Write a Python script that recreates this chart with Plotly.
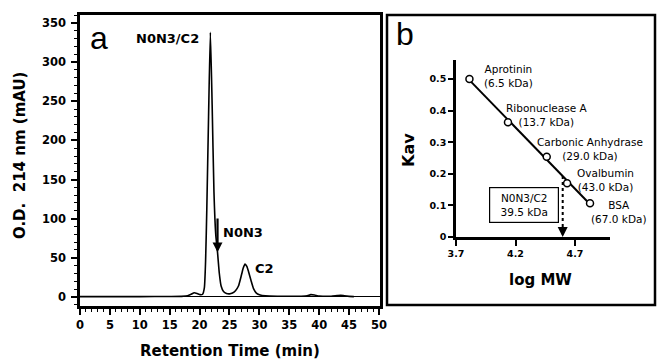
import numpy as np
import plotly.graph_objects as go

# ---------------- data ----------------
# Panel a: chromatogram
time_min = [0, 5, 10, 15, 17, 18, 18.6, 19.1, 19.6, 20.1, 20.5, 20.8, 21.0, 21.2, 21.5, 21.8,
            22.1, 22.4, 22.7, 23.0, 23.3, 23.6, 24.0, 24.5, 25.0, 25.5, 26.0, 26.5, 27.0, 27.3,
            27.6, 27.9, 28.2, 28.6, 29.0, 29.5, 30, 31, 33, 35, 37, 38, 38.6, 39.2, 40, 41, 42,
            43, 43.6, 44.2, 45, 45.8]
absorbance = [0.5, 0.5, 0.5, 0.6, 0.8, 1.5, 3.5, 5.5, 4.5, 3.0, 3.5, 12, 45, 110, 230, 338,
              245, 135, 80, 57, 30, 14, 7, 4.5, 4, 5, 8, 14, 28, 37,
              42, 39, 32, 21, 11, 5, 3, 1.5, 1, 1, 1, 1.5, 3, 2.5, 1.2, 1, 1,
              1.8, 2.2, 1.5, 0.8, 0.5]
x_ticks_a = list(range(0, 51, 5))
y_ticks_a = list(range(0, 351, 50))

# Panel b: calibration
standards = ["Aprotinin", "Ribonuclease A", "Carbonic Anhydrase", "Ovalbumin", "BSA"]
mw_kda = [6.5, 13.7, 29.0, 43.0, 67.0]
kav = [0.50, 0.363, 0.254, 0.17, 0.107]
sample_label = "N0N3/C2"
sample_mw_kda = 39.5
x_ticks_b = [3.7, 4.2, 4.7]
y_ticks_b = [0, 0.1, 0.2, 0.3, 0.4, 0.5]
y_ticktext_b = ["0", "0.1", "0.2", "0.3", "0.4", "0.5"]

# ---------------- derived ----------------
log_mw = np.log10(np.array(mw_kda) * 1000)
slope, intercept = np.polyfit(log_mw, kav, 1)
fit_x = np.array([log_mw.min(), log_mw.max()])
fit_y = slope * fit_x + intercept
sample_x = np.log10(sample_mw_kda * 1000)
sample_y = slope * sample_x + intercept

W, H = 657, 360
def px(x):
    return x / W
def py(y):
    return (H - y) / H

FONT = "DejaVu Sans"
fig = go.Figure()

# chromatogram
fig.add_trace(go.Scatter(x=time_min, y=absorbance, mode="lines",
                         line=dict(color="black", width=1.6, shape="spline", smoothing=0.5),
                         xaxis="x", yaxis="y", showlegend=False, hoverinfo="skip"))

# calibration line
fig.add_trace(go.Scatter(x=fit_x, y=fit_y, mode="lines", line=dict(color="black", width=2),
                         xaxis="x2", yaxis="y2", showlegend=False))
fig.add_trace(go.Scatter(x=log_mw, y=kav, mode="markers",
                         marker=dict(symbol="circle", size=7, color="white",
                                     line=dict(color="black", width=1.5)),
                         xaxis="x2", yaxis="y2", showlegend=False))
# dotted drop line for the sample
fig.add_trace(go.Scatter(x=[sample_x, sample_x], y=[sample_y, 0.03], mode="lines",
                         line=dict(color="black", width=2, dash="dot"),
                         xaxis="x2", yaxis="y2", showlegend=False))

ann = []
# arrow head of sample line
ann.append(dict(x=sample_x, y=0.0, ax=sample_x, ay=0.035, xref="x2", yref="y2",
                axref="x2", ayref="y2", showarrow=True, arrowhead=2, arrowsize=1,
                arrowwidth=2, arrowcolor="black", text=""))

C = dict(xanchor="center", yanchor="middle", showarrow=False)

# panel a annotations
ann.append(dict(x=14.7, y=330, xref="x", yref="y", text="N0N3/C2", **C,
                font=dict(family=FONT, size=13, color="black", weight="bold")))
ann.append(dict(x=23.0, y=57, ax=23.0, ay=102, xref="x", yref="y", axref="x", ayref="y",
                showarrow=True, arrowhead=2, arrowsize=0.9, arrowwidth=2.2,
                arrowcolor="black", text=""))
ann.append(dict(x=23.6, y=82, xref="x", yref="y", text="N0N3", showarrow=False,
                xanchor="left", yanchor="middle",
                font=dict(family=FONT, size=13, color="black", weight="bold")))
ann.append(dict(x=28.9, y=37, xref="x", yref="y", text="C2", showarrow=False,
                xanchor="left", yanchor="middle",
                font=dict(family=FONT, size=13, color="black", weight="bold")))

# panel b point labels
offsets = [(39, 3), (39, 7.5), (43, 8), (38, 3.5), (29, -9)]
for name, m, lx, k, (dx, dy) in zip(standards, mw_kda, log_mw, kav, offsets):
    ann.append(dict(x=lx, y=k, xref="x2", yref="y2", xshift=dx, yshift=dy,
                    text=f"{name}<br>({m:.1f} kDa)", align="center", **C,
                    font=dict(family=FONT, size=10.5, color="black")))

# sample box
ann.append(dict(x=4.271, y=0.101, xref="x2", yref="y2",
                text=f"{sample_label}<br>{sample_mw_kda} kDa", **C,
                bordercolor="black", borderwidth=1.2, borderpad=1, width=66, height=32,
                bgcolor="white", font=dict(family=FONT, size=10.5, color="black")))

# panel letters
ann.append(dict(x=px(88), y=py(38), xref="paper", yref="paper", text="a", showarrow=False,
                xanchor="left", yanchor="middle",
                font=dict(family="Liberation Sans", size=32, color="black")))
ann.append(dict(x=px(394), y=py(34), xref="paper", yref="paper", text="b", showarrow=False,
                xanchor="left", yanchor="middle",
                font=dict(family="Liberation Sans", size=32, color="black")))

# axis titles
ann.append(dict(x=px(230), y=py(351), xref="paper", yref="paper", text="Retention Time (min)",
                **C, font=dict(family=FONT, size=15, color="black", weight="bold")))
ann.append(dict(x=px(20), y=py(156), xref="paper", yref="paper", text="O.D.  214 nm (mAU)",
                textangle=-90, **C,
                font=dict(family=FONT, size=15, color="black", weight="bold")))
ann.append(dict(x=px(540), y=py(280), xref="paper", yref="paper", text="log MW",
                **C, font=dict(family=FONT, size=15, color="black", weight="bold")))
ann.append(dict(x=px(408), y=py(150), xref="paper", yref="paper", text="Kav", textangle=-90,
                **C, font=dict(family=FONT, size=16, color="black", weight="bold")))

shapes = [dict(type="rect", xref="paper", yref="paper", x0=px(387), x1=px(655),
               y0=py(305), y1=py(15), line=dict(color="black", width=2.5))]

tick_font_a = dict(family=FONT, size=11.5, color="black", weight="bold")
tick_font_b = dict(family=FONT, size=9.5, color="black", weight="bold")

fig.update_layout(
    width=W, height=H, margin=dict(l=0, r=0, t=0, b=0, pad=0, autoexpand=False),
    paper_bgcolor="white", plot_bgcolor="white",
    annotations=ann, shapes=shapes,
    xaxis=dict(domain=[px(80), px(380)], range=[0, 50.17], tickvals=x_ticks_a,
               ticks="outside", ticklen=6, tickwidth=1.5, tickcolor="black",
               minor=dict(dtick=1, ticks="outside", ticklen=3, tickwidth=1, tickcolor="black"),
               showline=True, linewidth=2.5, linecolor="black", mirror=True,
               showgrid=False, zeroline=False, tickfont=tick_font_a, anchor="y",
               automargin=False),
    yaxis=dict(domain=[py(306), py(15)], range=[-11.5, 360], tickvals=y_ticks_a,
               ticks="outside", ticklen=6, tickwidth=1.5, tickcolor="black",
               minor=dict(dtick=10, ticks="outside", ticklen=3, tickwidth=1, tickcolor="black"),
               showline=True, linewidth=2.5, linecolor="black", mirror=True,
               showgrid=False, zeroline=True, zerolinecolor="black", zerolinewidth=1,
               tickfont=tick_font_a, anchor="x", ticklabelstandoff=3, automargin=False),
    xaxis2=dict(domain=[px(456), px(610)], range=[3.7, 4.994], tickvals=x_ticks_b,
                ticktext=[str(v) for v in x_ticks_b],
                ticks="outside", ticklen=6, tickwidth=2, tickcolor="black",
                showline=True, linewidth=2.5, linecolor="black",
                showgrid=False, zeroline=False, tickfont=tick_font_b, anchor="y2",
                automargin=False),
    yaxis2=dict(domain=[py(237), py(60)], range=[0, 0.56], tickvals=y_ticks_b,
                ticktext=y_ticktext_b,
                ticks="outside", ticklen=5, tickwidth=2, tickcolor="black",
                showline=True, linewidth=2.5, linecolor="black",
                showgrid=False, zeroline=False, tickfont=tick_font_b, anchor="x2",
                automargin=False),
)

fig.write_html("out.html", config={"displayModeBar": False},
               post_script="document.body.style.margin='0';document.body.style.overflow='hidden';")
